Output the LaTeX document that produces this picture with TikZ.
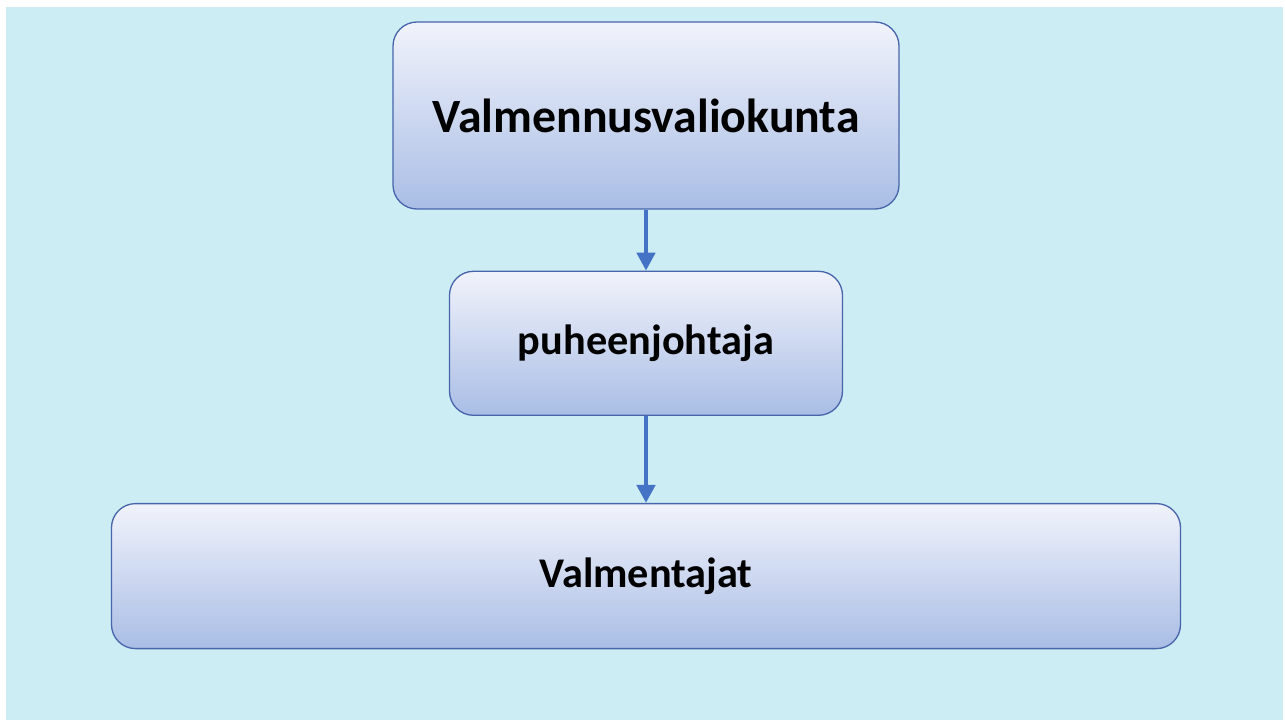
\documentclass[tikz,border=0pt]{standalone}
\usepackage{fontspec}
\setmainfont{Carlito}
\usetikzlibrary{positioning, arrows.meta}
\definecolor{waterbg}{HTML}{CBEDF3}
\definecolor{boxtop}{HTML}{F1F3FB}
\definecolor{boxbottom}{HTML}{A9BDE5}
\definecolor{boxline}{HTML}{4864AB}
\definecolor{arrowblue}{HTML}{4472C4}

\begin{document}
\begin{tikzpicture}[
    box/.style={draw=boxline, line width=1.3pt, rounded corners=24pt,
                top color=boxtop, bottom color=boxbottom, align=center, font=\bfseries},
    link/.style={-{Triangle[width=18pt, length=18pt]}, line width=4.5pt, draw=arrowblue},
]

% Background
\fill[white] (0,0) rectangle (1286pt,-722pt);
\fill[waterbg] (6pt,-7pt) rectangle (1283pt,-720pt);
\useasboundingbox (0,0) rectangle (1286pt,-722pt);

% Committee
\node[box, minimum width=506pt, minimum height=187pt, font=\bfseries\fontsize{47.8}{54}\selectfont]
    (committee) at (646pt,-115.5pt) {Valmennusvaliokunta};

% Chair
\node[box, minimum width=393pt, minimum height=144pt, font=\bfseries\fontsize{42.3}{48}\selectfont,
    below=61pt of committee] (chair) {puheenjohtaja};

% Coaches
\node[box, minimum width=1069pt, minimum height=145pt, font=\bfseries\fontsize{42.3}{48}\selectfont,
    below=87pt of chair] (coaches) {Valmentajat};

% Arrows
\draw[link] (committee.south) -- (chair.north);
\draw[link] (chair.south) -- (coaches.north);

\end{tikzpicture}
\end{document}
